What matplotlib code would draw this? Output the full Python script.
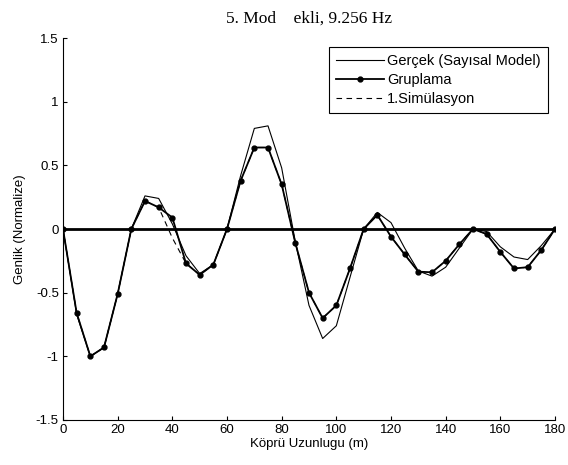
import matplotlib.pyplot as plt
import numpy as np

# Span positions along the bridge (m)
x = np.arange(0, 181, 5)

# Real mode shape (numerical model)
gercek = [0, -0.67, -1.0, -0.93, -0.51, 0, 0.26, 0.24, 0.04, -0.21, -0.35, -0.28,
          0, 0.42, 0.79, 0.81, 0.48, -0.10, -0.60, -0.86, -0.76, -0.38, 0,
          0.13, 0.05, -0.15, -0.33, -0.37, -0.30, -0.15, 0, -0.02, -0.14,
          -0.22, -0.24, -0.13, 0]

# Grouped result
gruplama = [0, -0.66, -1.0, -0.93, -0.51, 0, 0.22, 0.17, 0.09, -0.27, -0.36, -0.28,
            0, 0.38, 0.64, 0.64, 0.35, -0.11, -0.50, -0.70, -0.60, -0.31, 0,
            0.11, -0.06, -0.20, -0.335, -0.34, -0.25, -0.12, 0, -0.04, -0.18,
            -0.31, -0.30, -0.165, 0]

# First simulation
simulasyon = list(gruplama)
simulasyon[8] = -0.07
simulasyon[9] = -0.27

fig = plt.figure(figsize=(5.68, 4.65), dpi=100)
ax = fig.add_axes([63 / 568, 45 / 465, 492 / 568, 382 / 465])

ax.plot([x[0], x[-1]], [0, 0], color='black', lw=2.0)
ax.plot(x, gercek, color='black', lw=0.8, label='Gerçek (Sayısal Model)')
ax.plot(x, gruplama, color='black', lw=1.3, marker='o', markersize=3.5,
        label='Gruplama')
ax.plot(x, simulasyon, color='black', lw=0.8, ls=(0, (5, 4)),
        label='1.Simülasyon')

ax.set_xlim(0, 180)
ax.set_ylim(-1.5, 1.5)
ax.set_xticks(np.arange(0, 181, 20))
ax.set_yticks([-1.5, -1, -0.5, 0, 0.5, 1, 1.5])
ax.set_yticklabels(['-1.5', '-1', '-0.5', '0', '0.5', '1', '1.5'])
ax.tick_params(direction='in', length=3, labelsize=9.5, pad=3)
for lab in ax.get_xticklabels() + ax.get_yticklabels():
    lab.set_family('Liberation Sans')

ax.spines['top'].set_visible(False)
ax.spines['right'].set_visible(False)

ax.set_xlabel('Köprü Uzunlugu (m)', fontsize=9.5, family='Liberation Sans',
              labelpad=1)
ax.set_ylabel('Genlik (Normalize)', fontsize=9.5, family='Liberation Sans',
              labelpad=7)
ax.set_title('5. Mod    ekli, 9.256 Hz', fontsize=12.5, family='Liberation Serif',
             pad=11)

leg = ax.legend(loc='upper right', bbox_to_anchor=(0.986, 0.976), fancybox=False,
                edgecolor='black', framealpha=1, handlelength=3.3,
                borderpad=0.5, labelspacing=0.33, handletextpad=0.2,
                borderaxespad=0,
                prop={'family': 'Liberation Sans', 'size': 10.5})
leg.get_frame().set_linewidth(0.8)

fig.savefig('out.png', dpi=100)
